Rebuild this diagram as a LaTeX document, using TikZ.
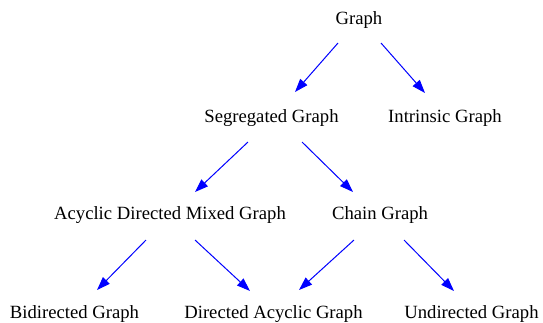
\documentclass[tikz,border=0pt]{standalone}
\usepackage{fontspec}
\setmainfont{Liberation Serif}
\usetikzlibrary{arrows.meta}
\tikzset{
  lbl/.style={anchor=base, inner sep=0pt, font=\fontsize{14}{16.8}\selectfont},
  edge/.style={draw=blue, line width=0.75pt, -{Triangle[length=10pt,width=7pt]}, blue}
}
\begin{document}
\begin{tikzpicture}[x=0.75pt,y=-0.75pt]
\useasboundingbox (0,0) rectangle (543,322);
\node[lbl] (g) at (359,24) {Graph};
\node[lbl] (seg) at (271.5,122) {Segregated Graph};
\node[lbl] (intr) at (445,122) {Intrinsic Graph};
\node[lbl] (admg) at (170,219) {Acyclic Directed Mixed Graph};
\node[lbl] (chain) at (380,219) {Chain Graph};
\node[lbl] (bid) at (74.5,318) {Bidirected Graph};
\node[lbl] (dag) at (273.5,318) {Directed Acyclic Graph};
\node[lbl] (und) at (471.5,318) {Undirected Graph};
\draw[edge] ([shift={(-21,19)}]g.base) -- ([shift={(23.5,-30)}]seg.base);
\draw[edge] ([shift={(22,19)}]g.base) -- ([shift={(-20,-29)}]intr.base);
\draw[edge] ([shift={(-23.5,20)}]seg.base) -- ([shift={(25,-27)}]admg.base);
\draw[edge] ([shift={(30.5,20)}]seg.base) -- ([shift={(-27,-27)}]chain.base);
\draw[edge] ([shift={(-24,21)}]admg.base) -- ([shift={(22.5,-28)}]bid.base);
\draw[edge] ([shift={(25,21)}]admg.base) -- ([shift={(-23.5,-27)}]dag.base);
\draw[edge] ([shift={(-26,21)}]chain.base) -- ([shift={(25.5,-28)}]dag.base);
\draw[edge] ([shift={(24,21)}]chain.base) -- ([shift={(-17.5,-27)}]und.base);
\end{tikzpicture}
\end{document}
